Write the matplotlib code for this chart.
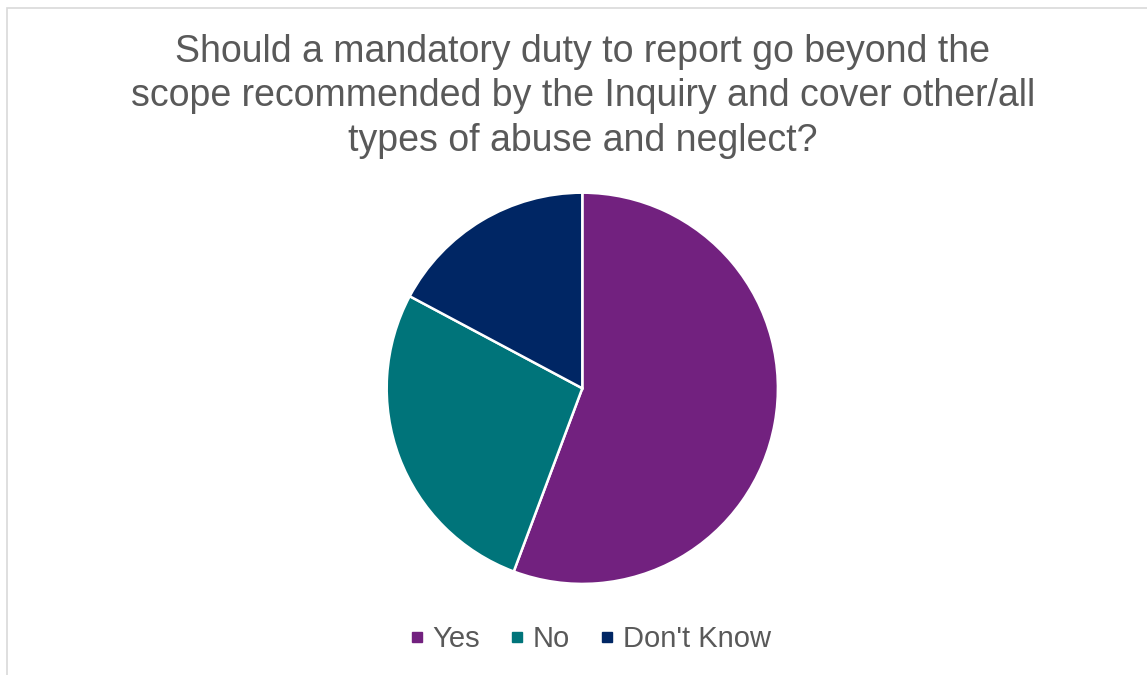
import matplotlib
matplotlib.use("Agg")
import matplotlib.pyplot as plt
from matplotlib.lines import Line2D
from matplotlib.patches import Rectangle

plt.rcParams["font.family"] = ["Liberation Sans", "DejaVu Sans"]

# Survey responses (share of respondents, %)
labels = ["Yes", "No", "Don't Know"]
values = [55.7, 27.1, 17.2]
colors = ["#72217F", "#00747A", "#002664"]

title = ("Should a mandatory duty to report go beyond the\n"
         "scope recommended by the Inquiry and cover other/all\n"
         "types of abuse and neglect?")

W, H = 1147, 675
fig = plt.figure(figsize=(W / 100, H / 100), dpi=100)

# light chart-area border (runs off the right and bottom edges)
fig.patches.append(Rectangle((6.5 / W, -0.1), 1.2, (H - 8.3) / H + 0.1,
                             transform=fig.transFigure, fill=False,
                             edgecolor="#D9D9D9", linewidth=1.2))

# pie placed by pixel geometry
cx, cy, r = 582.3, 388.3, 195.6
pad = 1.02
ax = fig.add_axes([(cx - r * pad) / W, (H - cy - r * pad) / H,
                   2 * r * pad / W, 2 * r * pad / H])
wedges, _ = ax.pie(values, colors=colors, startangle=90, counterclock=False,
                   wedgeprops=dict(edgecolor="white", linewidth=1.8))
ax.set_xlim(-pad, pad)
ax.set_ylim(-pad, pad)
ax.set_aspect("equal")
ax.axis("off")

fig.text(583 / W, 1 - 96.5 / H, title, ha="center", va="center",
         fontsize=27, color="#595959", linespacing=1.29)

handles = [Line2D([], [], marker="s", linestyle="none", markersize=7.2,
                  markerfacecolor=c, markeredgecolor=c) for c in colors]
fig.legend(handles, labels, loc="center", ncol=3,
           bbox_to_anchor=(590 / W, 1 - 639 / H), frameon=False,
           fontsize=21, labelcolor="#595959", handlelength=0.5,
           handletextpad=0.3, columnspacing=1.0)

fig.savefig("out.png", dpi=100, facecolor="white")
